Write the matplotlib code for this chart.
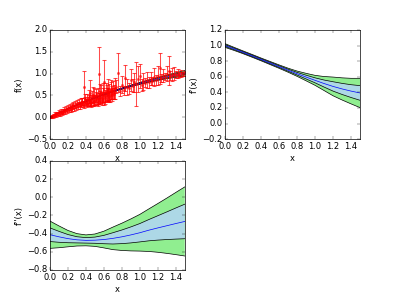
import numpy as np
import matplotlib
matplotlib.use("Agg")
import matplotlib.pyplot as plt

plt.style.use("classic")

# grid for the reconstructed function and its derivatives
x_grid = [0.0, 0.1, 0.2, 0.3, 0.4, 0.5, 0.6, 0.7, 0.8, 0.9, 1.0, 1.1, 1.2, 1.3, 1.4, 1.5]

f_mean = [0.0, 0.098, 0.191, 0.281, 0.365, 0.445, 0.520, 0.591, 0.657, 0.719, 0.776,
          0.830, 0.879, 0.925, 0.968, 1.008]
f_sig = [0.0, 0.001, 0.002, 0.003, 0.003, 0.004, 0.005, 0.006, 0.007, 0.009, 0.011,
         0.014, 0.017, 0.021, 0.026, 0.032]

df_mean = [1.000, 0.957, 0.913, 0.868, 0.822, 0.776, 0.730, 0.684, 0.639, 0.596, 0.554,
           0.513, 0.476, 0.444, 0.416, 0.392]
df_sig = [0.012, 0.010, 0.009, 0.009, 0.009, 0.010, 0.011, 0.013, 0.017, 0.024, 0.032,
          0.045, 0.060, 0.071, 0.082, 0.094]

d2f_mean = [-0.412, -0.435, -0.455, -0.468, -0.474, -0.472, -0.465, -0.452, -0.435, -0.414,
            -0.390, -0.362, -0.337, -0.313, -0.289, -0.266]
d2f_sig = [0.075, 0.060, 0.045, 0.034, 0.030, 0.034, 0.046, 0.062, 0.075, 0.088, 0.101,
           0.117, 0.134, 0.152, 0.171, 0.190]

# observed data points
x_lo = [0.00, 0.01, 0.02, 0.03, 0.04, 0.05, 0.06, 0.07, 0.08, 0.09, 0.10, 0.11, 0.12,
        0.13, 0.14, 0.15, 0.16, 0.17, 0.18, 0.19, 0.20, 0.21, 0.22, 0.23, 0.24, 0.25,
        0.26, 0.27, 0.28, 0.29, 0.30, 0.31, 0.32, 0.33, 0.34]
y_lo = [0.01, 0.00, 0.03, 0.02, 0.05, 0.04, 0.07, 0.05, 0.09, 0.07, 0.11, 0.09, 0.13,
        0.10, 0.15, 0.12, 0.17, 0.14, 0.20, 0.15, 0.22, 0.17, 0.23, 0.19, 0.25, 0.21,
        0.28, 0.22, 0.29, 0.24, 0.31, 0.26, 0.33, 0.27, 0.35]
e_lo = [0.02, 0.02, 0.03, 0.03, 0.03, 0.03, 0.04, 0.04, 0.04, 0.04, 0.05, 0.05, 0.05,
        0.05, 0.05, 0.05, 0.06, 0.06, 0.06, 0.06, 0.06, 0.06, 0.07, 0.07, 0.07, 0.07,
        0.07, 0.07, 0.08, 0.08, 0.08, 0.08, 0.08, 0.08, 0.09]

x_mid = [0.35, 0.36, 0.37, 0.38, 0.39, 0.40, 0.41, 0.42, 0.43, 0.44, 0.45, 0.46, 0.47,
         0.48, 0.49, 0.50, 0.51, 0.52, 0.53, 0.54, 0.55, 0.56, 0.57, 0.58, 0.59, 0.60,
         0.61, 0.62, 0.63, 0.64, 0.65, 0.66, 0.67, 0.68, 0.69, 0.70, 0.71, 0.72]
y_mid = [0.30, 0.36, 0.31, 0.70, 0.38, 0.33, 0.42, 0.36, 0.47, 0.34, 0.55, 0.39, 0.47,
         0.36, 0.48, 0.40, 0.50, 0.42, 0.48, 0.43, 1.00, 0.46, 0.55, 0.45, 0.56, 0.80,
         0.49, 0.58, 0.50, 0.62, 0.53, 0.58, 0.50, 0.63, 0.56, 0.62, 0.54, 0.66]
e_mid = [0.06, 0.08, 0.07, 0.35, 0.09, 0.08, 0.12, 0.10, 0.15, 0.09, 0.30, 0.12, 0.14,
         0.10, 0.20, 0.12, 0.15, 0.14, 0.18, 0.12, 0.62, 0.15, 0.20, 0.13, 0.22, 0.52,
         0.14, 0.20, 0.16, 0.25, 0.15, 0.18, 0.14, 0.22, 0.15, 0.20, 0.12, 0.25]

x_mid2 = [0.355, 0.375, 0.395, 0.415, 0.435, 0.455, 0.475, 0.495, 0.515, 0.535, 0.555,
          0.575, 0.595, 0.615, 0.635, 0.655, 0.675, 0.695, 0.715]
y_mid2 = [0.36, 0.28, 0.43, 0.31, 0.40, 0.33, 0.52, 0.37, 0.45, 0.35, 0.54, 0.40, 0.50,
          0.44, 0.57, 0.47, 0.61, 0.52, 0.58]
e_mid2 = [0.08, 0.06, 0.10, 0.08, 0.12, 0.10, 0.18, 0.12, 0.14, 0.10, 0.22, 0.12, 0.16,
          0.14, 0.18, 0.13, 0.20, 0.15, 0.17]

x_hi = [0.74, 0.76, 0.78, 0.80, 0.82, 0.84, 0.86, 0.88, 0.90, 0.92, 0.94, 0.96, 0.98,
        1.00, 1.02, 1.04, 1.06, 1.08, 1.10, 1.12, 1.14, 1.16, 1.18, 1.20, 1.22, 1.24,
        1.26, 1.28, 1.30, 1.32, 1.34, 1.36, 1.38, 1.40, 1.42, 1.44, 1.46, 1.48, 1.50]
y_hi = [0.70, 1.02, 0.60, 0.75, 0.62, 0.90, 0.70, 0.66, 0.85, 0.72, 0.80, 0.76, 0.88,
        0.95, 0.74, 0.82, 0.79, 0.86, 0.80, 0.88, 0.83, 0.92, 0.86, 0.95, 1.12, 0.90,
        0.96, 0.93, 1.00, 1.07, 0.95, 0.98, 1.00, 0.97, 1.00, 0.98, 1.01, 0.99, 1.01]
e_hi = [0.15, 0.45, 0.12, 0.20, 0.10, 0.30, 0.18, 0.12, 0.25, 0.15, 0.22, 0.50, 0.30,
        0.28, 0.14, 0.20, 0.10, 0.18, 0.12, 0.15, 0.10, 0.20, 0.12, 0.22, 0.36, 0.10,
        0.15, 0.08, 0.18, 0.33, 0.10, 0.14, 0.15, 0.08, 0.10, 0.06, 0.08, 0.05, 0.06]

x_obs = np.array(x_lo + x_mid + x_mid2 + x_hi)
y_obs = np.array(y_lo + y_mid + y_mid2 + y_hi)
e_obs = np.array(e_lo + e_mid + e_mid2 + e_hi)

xg = np.array(x_grid)


def band(ax, mean, sig):
    mean = np.array(mean)
    sig = np.array(sig)
    ax.fill_between(xg, mean - 2 * sig, mean + 2 * sig, facecolor="lightgreen", edgecolor="none")
    ax.fill_between(xg, mean - sig, mean + sig, facecolor="lightblue", edgecolor="none")
    for k in (-2, -1, 1, 2):
        ax.plot(xg, mean + k * sig, "k-", lw=1)
    ax.plot(xg, mean, "b-", lw=1)


fig = plt.figure(figsize=(8, 6), dpi=50)
fig.subplots_adjust(wspace=0.3)

ax1 = fig.add_subplot(2, 2, 1)
band(ax1, f_mean, f_sig)
ax1.errorbar(x_obs, y_obs, yerr=e_obs, fmt="r.", ecolor="r", markersize=7,
             capsize=3, elinewidth=1.5, capthick=1.5, alpha=0.7)
ax1.set_xlim(0, 1.5)
ax1.set_ylim(-0.5, 2.0)
ax1.set_xlabel("x")
ax1.set_ylabel("f(x)")

ax2 = fig.add_subplot(2, 2, 2)
band(ax2, df_mean, df_sig)
ax2.set_xlim(0, 1.5)
ax2.set_ylim(-0.2, 1.2)
ax2.set_xlabel("x")
ax2.set_ylabel("f'(x)")

ax3 = fig.add_subplot(2, 2, 3)
band(ax3, d2f_mean, d2f_sig)
ax3.set_xlim(0, 1.5)
ax3.set_ylim(-0.8, 0.4)
ax3.set_xlabel("x")
ax3.set_ylabel("f''(x)")

for ax in (ax1, ax2, ax3):
    ax.set_xticks(np.arange(0, 1.41, 0.2))

fig.savefig("out.png", dpi=50)
